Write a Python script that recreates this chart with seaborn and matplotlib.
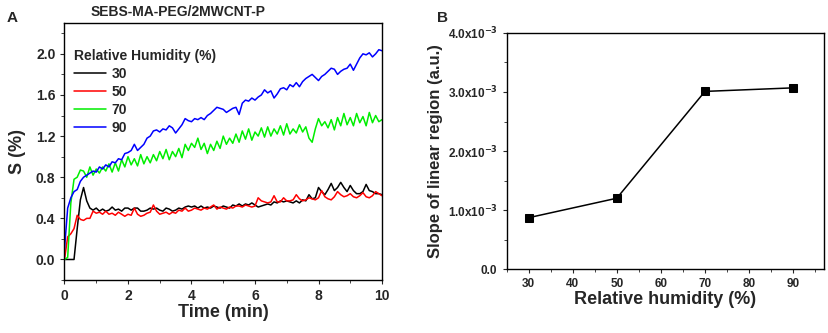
import numpy as np
import pandas as pd
import seaborn as sns
import matplotlib.pyplot as plt
from matplotlib.ticker import MultipleLocator, FuncFormatter

# Panel A: response S (%) vs time, sampled every 0.1 min
time_min = [round(0.1 * i, 1) for i in range(101)]

s_rh30 = [0, 0, 0, 0, 0.30, 0.58, 0.70, 0.57, 0.50, 0.48,
          0.50, 0.47, 0.49, 0.47, 0.48, 0.51, 0.48, 0.49, 0.47, 0.50,
          0.50, 0.48, 0.50, 0.50, 0.47, 0.47, 0.48, 0.50, 0.49, 0.50,
          0.48, 0.47, 0.50, 0.49, 0.47, 0.48, 0.50, 0.49, 0.51, 0.52,
          0.51, 0.52, 0.50, 0.52, 0.50, 0.51, 0.50, 0.52, 0.51, 0.50,
          0.52, 0.51, 0.50, 0.53, 0.52, 0.54, 0.52, 0.54, 0.53, 0.55,
          0.53, 0.51, 0.52, 0.53, 0.54, 0.53, 0.56, 0.55, 0.57, 0.56,
          0.57, 0.56, 0.55, 0.57, 0.55, 0.58, 0.57, 0.63, 0.59, 0.60,
          0.70, 0.66, 0.63, 0.68, 0.74, 0.67, 0.70, 0.75, 0.70, 0.66,
          0.72, 0.67, 0.64, 0.64, 0.66, 0.73, 0.67, 0.66, 0.64, 0.64,
          0.63]

s_rh50 = [0, 0.22, 0.25, 0.30, 0.43, 0.39, 0.38, 0.40, 0.40, 0.47,
          0.45, 0.46, 0.44, 0.47, 0.44, 0.45, 0.43, 0.46, 0.44, 0.42,
          0.44, 0.43, 0.50, 0.44, 0.42, 0.43, 0.45, 0.46, 0.53, 0.47,
          0.44, 0.45, 0.46, 0.44, 0.46, 0.45, 0.48, 0.47, 0.50, 0.47,
          0.48, 0.50, 0.49, 0.48, 0.50, 0.49, 0.51, 0.53, 0.49, 0.51,
          0.50, 0.49, 0.51, 0.50, 0.52, 0.52, 0.51, 0.53, 0.52, 0.51,
          0.52, 0.60, 0.57, 0.56, 0.55, 0.56, 0.62, 0.56, 0.56, 0.60,
          0.57, 0.57, 0.58, 0.63, 0.59, 0.57, 0.58, 0.60, 0.59, 0.58,
          0.60, 0.67, 0.61, 0.59, 0.58, 0.61, 0.66, 0.63, 0.61, 0.62,
          0.64, 0.61, 0.60, 0.62, 0.65, 0.61, 0.60, 0.62, 0.66, 0.64,
          0.62]

s_rh70 = [0, 0.02, 0.55, 0.78, 0.80, 0.87, 0.86, 0.80, 0.90, 0.82,
          0.88, 0.84, 0.90, 0.86, 0.93, 0.85, 0.94, 0.86, 0.97, 0.90,
          1.00, 0.92, 0.98, 0.91, 1.02, 0.93, 1.00, 0.94, 1.02, 0.96,
          1.05, 0.98, 1.07, 0.97, 1.05, 1.00, 1.08, 0.99, 1.12, 1.06,
          1.13, 1.09, 1.18, 1.07, 1.13, 1.03, 1.12, 1.06, 1.15, 1.08,
          1.20, 1.12, 1.18, 1.13, 1.22, 1.14, 1.25, 1.17, 1.27, 1.16,
          1.24, 1.20, 1.28, 1.19, 1.29, 1.20, 1.27, 1.22, 1.30, 1.21,
          1.32, 1.22, 1.27, 1.23, 1.31, 1.24, 1.29, 1.18, 1.14, 1.27,
          1.37, 1.30, 1.34, 1.28, 1.36, 1.26, 1.38, 1.30, 1.42, 1.31,
          1.38, 1.30, 1.42, 1.33, 1.39, 1.30, 1.43, 1.33, 1.40, 1.34,
          1.36]

s_rh90 = [0.10, 0.50, 0.60, 0.66, 0.68, 0.76, 0.80, 0.82, 0.84, 0.86,
          0.85, 0.90, 0.88, 0.92, 0.90, 0.95, 0.94, 0.98, 0.97, 1.03,
          1.04, 1.06, 1.12, 1.06, 1.09, 1.12, 1.18, 1.20, 1.25, 1.26,
          1.24, 1.27, 1.26, 1.30, 1.28, 1.23, 1.27, 1.31, 1.37, 1.35,
          1.34, 1.37, 1.36, 1.38, 1.36, 1.40, 1.42, 1.45, 1.48, 1.47,
          1.46, 1.43, 1.45, 1.47, 1.48, 1.41, 1.52, 1.55, 1.54, 1.57,
          1.55, 1.58, 1.60, 1.65, 1.62, 1.64, 1.57, 1.61, 1.66, 1.67,
          1.65, 1.70, 1.68, 1.72, 1.68, 1.73, 1.76, 1.78, 1.80, 1.77,
          1.74, 1.78, 1.80, 1.83, 1.86, 1.85, 1.80, 1.83, 1.85, 1.86,
          1.90, 1.84, 1.90, 1.96, 2.00, 1.99, 2.01, 1.97, 2.00, 2.04,
          2.03]

rh_labels = ["30", "50", "70", "90"]
rh_colors = ["#000000", "#ff0000", "#00ee00", "#0000ff"]

# Panel B: slope of linear region vs relative humidity
rh_values = [30, 50, 70, 90]
slope_values = [0.87e-3, 1.20e-3, 3.01e-3, 3.07e-3]

sns.set_style("ticks")
plt.rcParams["font.family"] = ["Liberation Sans", "DejaVu Sans"]
plt.rcParams["font.weight"] = "bold"
plt.rcParams["axes.linewidth"] = 1.0

df_a = pd.concat([
    pd.DataFrame({"Time": time_min, "S": s, "RH": lab})
    for s, lab in zip([s_rh30, s_rh50, s_rh70, s_rh90], rh_labels)
])
df_b = pd.DataFrame({"RH": rh_values, "Slope": slope_values})

fig = plt.figure(figsize=(8.29, 3.33), dpi=100)
ax1 = fig.add_axes([0.0778, 0.159, 0.383, 0.772])
ax2 = fig.add_axes([0.611, 0.192, 0.383, 0.709])

# --- Panel A ---
sns.lineplot(data=df_a, x="Time", y="S", hue="RH", palette=rh_colors,
             linewidth=1.1, ax=ax1)
ax1.set_xlim(0, 10)
ax1.set_ylim(-0.2, 2.3)
ax1.xaxis.set_major_locator(MultipleLocator(2))
ax1.xaxis.set_minor_locator(MultipleLocator(1))
ax1.yaxis.set_minor_locator(MultipleLocator(0.2))
ax1.set_yticks([0.0, 0.4, 0.8, 1.2, 1.6, 2.0])
ax1.yaxis.set_major_formatter(FuncFormatter(lambda v, p: f"{v:.1f}"))
ax1.set_xlabel("Time (min)", fontsize=13, fontweight="bold", labelpad=1)
ax1.set_ylabel("S (%)", fontsize=13, fontweight="bold", labelpad=7)
ax1.tick_params(axis="both", which="major", labelsize=10, length=3, direction="out")
ax1.tick_params(axis="both", which="minor", length=2, direction="out")
leg = ax1.legend(title="Relative Humidity (%)", loc="upper left",
                 bbox_to_anchor=(0.0, 0.935), frameon=False, fontsize=10,
                 title_fontsize=10, handlelength=2.3, handletextpad=0.4,
                 labelspacing=0.28, borderaxespad=0.3)
leg._legend_box.align = "left"
leg.get_title().set_fontweight("bold")
fig.text(178 / 829, 0.965, "SEBS-MA-PEG/2MWCNT-P", fontsize=10,
         fontweight="bold", ha="center", va="center")
fig.text(0.008, 0.935, "A", fontsize=11, fontweight="bold")

# --- Panel B ---
sns.lineplot(data=df_b, x="RH", y="Slope", color="black", marker="s",
             markersize=6, linewidth=1.1, markeredgecolor="black", ax=ax2)
ax2.set_xlim(25, 97)
ax2.set_ylim(0, 4.0e-3)
ax2.xaxis.set_major_locator(MultipleLocator(10))
ax2.xaxis.set_minor_locator(MultipleLocator(5))
ax2.yaxis.set_major_locator(MultipleLocator(1.0e-3))
ax2.yaxis.set_minor_locator(MultipleLocator(0.5e-3))


def sci_fmt(v, pos):
    if abs(v) < 1e-12:
        return "0.0"
    return f"{v * 1e3:.1f}x10$^{{\\mathbf{{-3}}}}$"


ax2.yaxis.set_major_formatter(FuncFormatter(sci_fmt))
ax2.set_xlabel("Relative humidity (%)", fontsize=13, fontweight="bold", labelpad=1)
ax2.set_ylabel("Slope of linear region (a.u.)", fontsize=12, fontweight="bold", labelpad=3)
ax2.tick_params(axis="both", which="major", labelsize=8.5, length=3, direction="out")
ax2.tick_params(axis="both", which="minor", length=2, direction="out")
fig.text(0.527, 0.935, "B", fontsize=11, fontweight="bold")

for ax in (ax1, ax2):
    for sp in ax.spines.values():
        sp.set_visible(True)
        sp.set_color("black")

fig.savefig("out.png", dpi=100)
